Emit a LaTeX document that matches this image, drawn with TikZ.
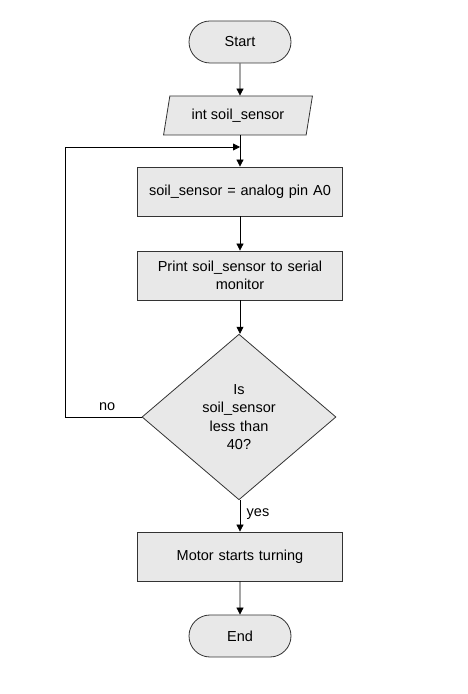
\documentclass[tikz,border=0pt]{standalone}
\usepackage{fontspec}
\setmainfont{Liberation Sans}
\usetikzlibrary{shapes.geometric,shapes.misc,arrows.meta}
\definecolor{boxfill}{HTML}{E8E8E8}
\definecolor{boxline}{HTML}{333333}
\begin{document}
\begin{tikzpicture}[x=1pt,y=1pt,
  every node/.style={font=\fontsize{14.5}{18.5}\selectfont},
  base/.style={draw=boxline,fill=boxfill,line width=0.8pt,align=center,inner sep=2pt},
  term/.style={base,rounded rectangle,minimum width=106,minimum height=42},
  iobox/.style={base,trapezium,trapezium left angle=75.6,trapezium right angle=104.4,trapezium stretches=true,minimum width=149,minimum height=39},
  procbox/.style={base,rectangle,minimum width=205,minimum height=49,text width=198},
  decbox/.style={base,diamond,minimum width=194,minimum height=164,text width=100,inner sep=0pt},
  conn/.style={draw=black,line width=0.8pt,-{Triangle[length=7pt,width=7pt]}},
  lbl/.style={font=\fontsize{14.5}{17}\selectfont}]
\useasboundingbox (0,0) rectangle (467,694);
\node[term] (start) at (240,652) {Start};
\node[iobox] (input) at (238,578.5) {int soil\_sensor};
\node[procbox] (read) at (240,502.5) {soil\_sensor = analog pin A0};
\node[procbox] (print) at (240,418.5) {Print soil\_sensor to serial\\monitor};
\node[decbox] (dec) at (239,277) {Is\\soil\_sensor\\less than\\40?};
\node[procbox] (motor) at (240,137.5) {Motor starts turning};
\node[term] (stop) at (240,58) {End};
\coordinate (merge) at (240,547);
\coordinate (loopbot) at (65,277);
\coordinate (looptop) at (65,547);
\draw[conn] (start) -- (input.north -| start);
\draw[conn] (input.south -| start) -- (read);
\draw[conn] (read) -- (print);
\draw[conn] (print) -- (dec.north -| print);
\draw[conn] (dec.south -| motor) -- node[lbl,right,pos=0.45,xshift=3pt] {yes} (motor);
\draw[conn] (dec.west) -- node[lbl,above,pos=0.45,yshift=3pt] {no} (loopbot) -- (looptop) -- (merge);
\draw[conn] (motor) -- (stop);
\end{tikzpicture}
\end{document}
